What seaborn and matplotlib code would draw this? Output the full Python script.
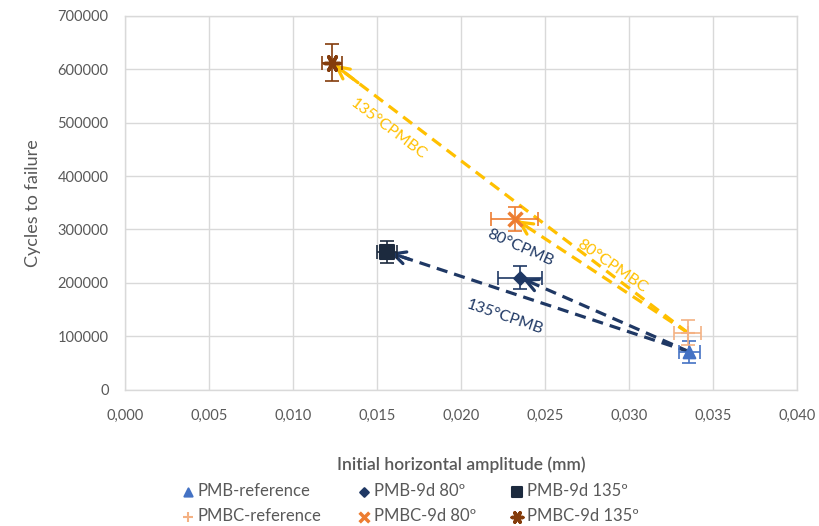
import numpy as np
import pandas as pd
import matplotlib
matplotlib.use("Agg")
import matplotlib.pyplot as plt
import seaborn as sns
from matplotlib.ticker import FuncFormatter, MultipleLocator

# Datos
series = ["PMB-reference", "PMB-9d 80º", "PMB-9d 135º",
          "PMBC-reference", "PMBC-9d 80º", "PMBC-9d 135º"]
amplitude = [0.0336, 0.0235, 0.0156, 0.0335, 0.0232, 0.0123]
cycles = [71000, 210000, 258000, 107000, 320000, 612000]
amp_err = [0.0006, 0.0013, 0.0006, 0.0008, 0.0014, 0.0006]
cyc_err = [20000, 22000, 21000, 23000, 23000, 35000]

# flechas: (origen, destino)
arrows = [("PMB-reference", "PMB-9d 135º"), ("PMB-reference", "PMB-9d 80º"),
          ("PMBC-reference", "PMBC-9d 80º"), ("PMBC-reference", "PMBC-9d 135º")]

colors = {"PMB-reference": "#4472C4", "PMB-9d 80º": "#1F3864", "PMB-9d 135º": "#1C2A3E",
          "PMBC-reference": "#F4B183", "PMBC-9d 80º": "#ED7D31", "PMBC-9d 135º": "#843C0C"}
markers = {"PMB-reference": "^", "PMB-9d 80º": "D", "PMB-9d 135º": "s",
           "PMBC-reference": "+", "PMBC-9d 80º": "x", "PMBC-9d 135º": (6, 2, 90)}
msizes = {"PMB-reference": 70, "PMB-9d 80º": 40, "PMB-9d 135º": 100,
          "PMBC-reference": 100, "PMBC-9d 80º": 100, "PMBC-9d 135º": 120}

df = pd.DataFrame({"serie": series, "amp": amplitude, "cyc": cycles,
                   "amp_err": amp_err, "cyc_err": cyc_err})

sns.set_theme(style="whitegrid")
plt.rcParams['font.family'] = ['Lato', 'DejaVu Sans']

fig = plt.figure(figsize=(8.19, 5.26), dpi=100)
ax = fig.add_axes([0.153, 0.259, 0.820, 0.711])

arrow_col = {"PMB": "#1F3864", "PMBC": "#FFC000"}
idx = df.set_index("serie")
for src, dst in arrows:
    a = idx.loc[src]
    b = idx.loc[dst]
    c = arrow_col[src.split("-")[0]]
    ax.plot([a.amp, b.amp], [a.cyc, b.cyc], color=c, lw=2.3,
            dashes=(3.5, 2.2), zorder=2)
    back = (b.amp + 0.08 * (a.amp - b.amp), b.cyc + 0.08 * (a.cyc - b.cyc))
    ax.annotate("", xy=(b.amp, b.cyc), xytext=back,
                arrowprops=dict(arrowstyle="->", color=c, lw=2.3, mutation_scale=22),
                zorder=3)

for _, r in df.iterrows():
    ax.errorbar(r.amp, r.cyc, xerr=r.amp_err, yerr=r.cyc_err, fmt="none",
                ecolor=colors[r.serie], elinewidth=1.2, capsize=5, capthick=1.2, zorder=4)

for s in series:
    sub = df[df.serie == s]
    lw = 2.5 if s in ("PMBC-9d 80º", "PMBC-9d 135º") else 1.5
    sns.scatterplot(data=sub, x="amp", y="cyc", ax=ax, marker=markers[s],
                    s=msizes[s], color=colors[s], edgecolor=colors[s],
                    linewidth=lw, label=s, zorder=5, legend=True)

# etiquetas de flechas
ax.text(0.01565, 487000, "135°CPMBC", color="#FFC000", fontsize=11.5,
        rotation=-37, ha="center", va="center")
ax.text(0.0235, 266000, "80°CPMB", color="#1F3864", fontsize=11.5,
        rotation=-24, ha="center", va="center")
ax.text(0.0290, 232000, "80°CPMBC", color="#FFC000", fontsize=11.5,
        rotation=-35, ha="center", va="center")
ax.text(0.0226, 135000, "135°CPMB", color="#1F3864", fontsize=11.5,
        rotation=-19, ha="center", va="center")

ax.set_xlim(0, 0.040)
ax.set_ylim(0, 700000)
ax.xaxis.set_major_locator(MultipleLocator(0.005))
ax.yaxis.set_major_locator(MultipleLocator(100000))
ax.xaxis.set_major_formatter(FuncFormatter(lambda v, p: f"{v:.3f}".replace(".", ",")))
ax.yaxis.set_major_formatter(FuncFormatter(lambda v, p: f"{int(round(v))}"))
ax.tick_params(axis="both", colors="#595959", labelsize=10.5, length=0)
ax.tick_params(axis="x", pad=14)
ax.tick_params(axis="y", pad=12)
ax.grid(True, color="#D9D9D9", lw=1)
for sp in ax.spines.values():
    sp.set_color("#D9D9D9")
    sp.set_linewidth(1)
ax.set_facecolor("white")

ax.set_xlabel("Initial horizontal amplitude (mm)", color="#595959", fontsize=12.5,
              fontweight="semibold", labelpad=24)
ax.set_ylabel("Cycles to failure", color="#595959", fontsize=13, labelpad=12)

handles, labels = ax.get_legend_handles_labels()
ax.get_legend().remove()
order = ["PMB-reference", "PMBC-reference", "PMB-9d 80º", "PMBC-9d 80º",
         "PMB-9d 135º", "PMBC-9d 135º"]
hmap = dict(zip(labels, handles))
fig.legend([hmap[o] for o in order], order, ncol=3, loc="lower center",
           bbox_to_anchor=(0.50, -0.025), frameon=False, fontsize=12,
           labelcolor="#595959", handletextpad=0.1, columnspacing=2.0,
           labelspacing=0.55, handlelength=1.0, markerscale=0.7)

fig.savefig("out.png", dpi=100, facecolor="white")
